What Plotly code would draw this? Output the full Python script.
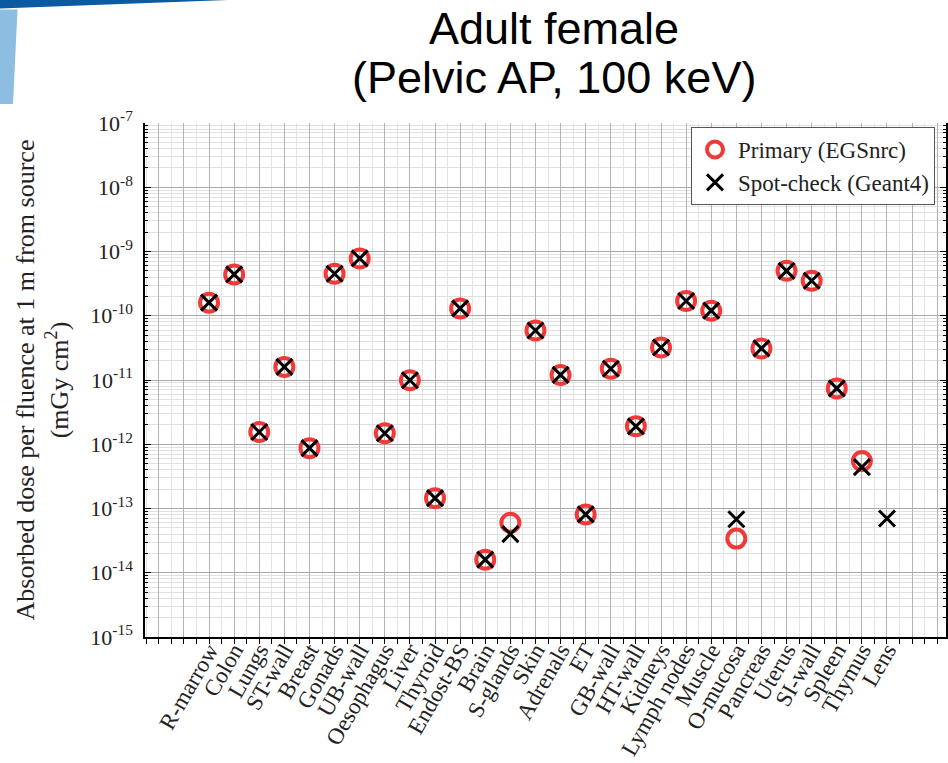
import plotly.graph_objects as go

organs = ["R-marrow", "Colon", "Lungs", "ST-wall", "Breast", "Gonads", "UB-wall",
          "Oesophagus", "Liver", "Thyroid", "Endost-BS", "Brain", "S-glands", "Skin",
          "Adrenals", "ET", "GB-wall", "HT-wall", "Kidneys", "Lymph nodes", "Muscle",
          "O-mucosa", "Pancreas", "Uterus", "SI-wall", "Spleen", "Thymus", "Lens"]

primary_egsnrc = [1.6e-10, 4.4e-10, 1.55e-12, 1.6e-11, 8.7e-13, 4.5e-10, 7.8e-10,
                  1.48e-12, 9.9e-12, 1.45e-13, 1.3e-10, 1.6e-14, 6.0e-14, 5.9e-11,
                  1.2e-11, 8.1e-14, 1.5e-11, 1.9e-12, 3.2e-11, 1.7e-10, 1.2e-10,
                  3.4e-14, 3.1e-11, 5.0e-10, 3.5e-10, 7.4e-12, 5.5e-13, None]

spot_geant4 = [1.6e-10, 4.4e-10, 1.55e-12, 1.6e-11, 8.7e-13, 4.5e-10, 7.8e-10,
               1.48e-12, 9.9e-12, 1.45e-13, 1.3e-10, 1.6e-14, 4.0e-14, 5.9e-11,
               1.2e-11, 8.1e-14, 1.5e-11, 1.9e-12, 3.2e-11, 1.7e-10, 1.2e-10,
               6.8e-14, 3.1e-11, 5.0e-10, 3.5e-10, 7.4e-12, 4.4e-13, 7.0e-14]

exponents = [-15, -14, -13, -12, -11, -10, -9, -8, -7]

SERIF = "Liberation Serif, Times New Roman, serif"

# plot area in pixels (for placing decorations)
L, R, T, B = 145, 946, 123, 637


def px(x, y):
    return (x - L) / (R - L), 1 + (T - y) / (B - T)


xpos = list(range(len(organs)))
tickvals = list(range(-2, len(organs) + 2))
ticktext = ["", ""] + organs + ["", ""]

fig = go.Figure()
fig.add_trace(go.Scatter(
    x=xpos, y=primary_egsnrc, mode="markers", name="Primary (EGSnrc)",
    marker=dict(symbol="circle-open", size=18, color="#F03A3A",
                line=dict(width=4, color="#F03A3A"))
))
fig.add_trace(go.Scatter(
    x=xpos, y=spot_geant4, mode="markers", name="Spot-check (Geant4)",
    marker=dict(symbol="x-thin-open", size=16, color="black",
                line=dict(width=3, color="black"))
))

xrange = [-2.55, 29.35]
fig.update_layout(
    width=948, height=763,
    margin=dict(l=L, r=948 - R, t=T, b=763 - B),
    paper_bgcolor="white", plot_bgcolor="white",
    font=dict(family=SERIF, color="black"),
    showlegend=True,
    legend=dict(x=px(935, 0)[0], y=px(0, 127)[1], xanchor="right", yanchor="top",
                bgcolor="white", bordercolor="#555", borderwidth=1,
                font=dict(family=SERIF, size=23, color="#222"),
                itemwidth=36, tracegroupgap=0),
    xaxis=dict(
        range=xrange, tickmode="array", tickvals=tickvals, ticktext=ticktext,
        tickangle=-60, tickfont=dict(family=SERIF, size=23, color="#222"),
        ticklabelstandoff=-16,
        ticks="outside", ticklen=5, tickcolor="black", tickwidth=1,
        showline=True, linecolor="black", linewidth=1.5, automargin=False,
        showgrid=True, gridcolor="#b4b4b4", gridwidth=1, zeroline=False,
        minor=dict(dtick=0.5, tick0=0.5, ticks="outside", ticklen=5,
                   tickcolor="black", showgrid=True, gridcolor="#e4e4e4"),
    ),
    xaxis2=dict(
        range=xrange, overlaying="x", side="top", anchor="y", automargin=False,
        tickmode="array", tickvals=tickvals, showticklabels=False,
        ticks="inside", ticklen=6, tickcolor="black",
        showline=True, linecolor="black", linewidth=1.5,
        showgrid=False, zeroline=False,
        minor=dict(dtick=0.5, tick0=0.5, ticks="inside", ticklen=3,
                   tickcolor="black", showgrid=False),
    ),
    yaxis=dict(
        type="log", range=[-15, -7], automargin=False,
        tickmode="array", tickvals=[10.0 ** e for e in exponents],
        ticktext=["10<sup>%d</sup>" % e for e in exponents],
        tickfont=dict(family=SERIF, size=22, color="#222"),
        ticks="inside", ticklen=6, tickcolor="black",
        ticklabelstandoff=6,
        showline=True, linecolor="black", linewidth=1.5, mirror="ticks",
        showgrid=True, gridcolor="#a8a8a8", gridwidth=1, zeroline=False,
        minor=dict(dtick="D1", ticks="inside", ticklen=3, tickcolor="black",
                   showgrid=True, gridcolor="#e0e0e0"),
        title=dict(text="Absorbed dose per fluence at 1 m from source<br>(mGy cm<sup>2</sup>)",
                   font=dict(family=SERIF, size=26, color="#222"), standoff=14),
    ),
)

# title (two lines, slide style)
for text, ycen in [("Adult female", 28), ("(Pelvic AP, 100 keV)", 77)]:
    fig.add_annotation(text=text, xref="paper", yref="paper",
                       x=px(554, 0)[0], y=px(0, ycen)[1], xanchor="center", yanchor="middle",
                       showarrow=False,
                       font=dict(family="Liberation Sans, Arial, sans-serif", size=45, color="black"))

# slide decorations in top-left corner
def poly(points):
    pts = [px(x, y) for x, y in points]
    return "M " + " L ".join("%.5f,%.5f" % p for p in pts) + " Z"


fig.add_shape(type="path", xref="paper", yref="paper",
              path=poly([(0, 0), (228, 0), (0, 8.5)]),
              fillcolor="#0B5AA2", line=dict(width=0), layer="above")
fig.add_shape(type="path", xref="paper", yref="paper",
              path=poly([(0, 9.5), (17.5, 9.5), (13, 104), (0, 104)]),
              fillcolor="#8DBDE0", line=dict(width=0), layer="above")

# drop the browser's default 8px body margin so the figure sits at the page corner
fig.write_html("out.html", config={"displayModeBar": False},
               post_script="document.body.style.margin='0';")
